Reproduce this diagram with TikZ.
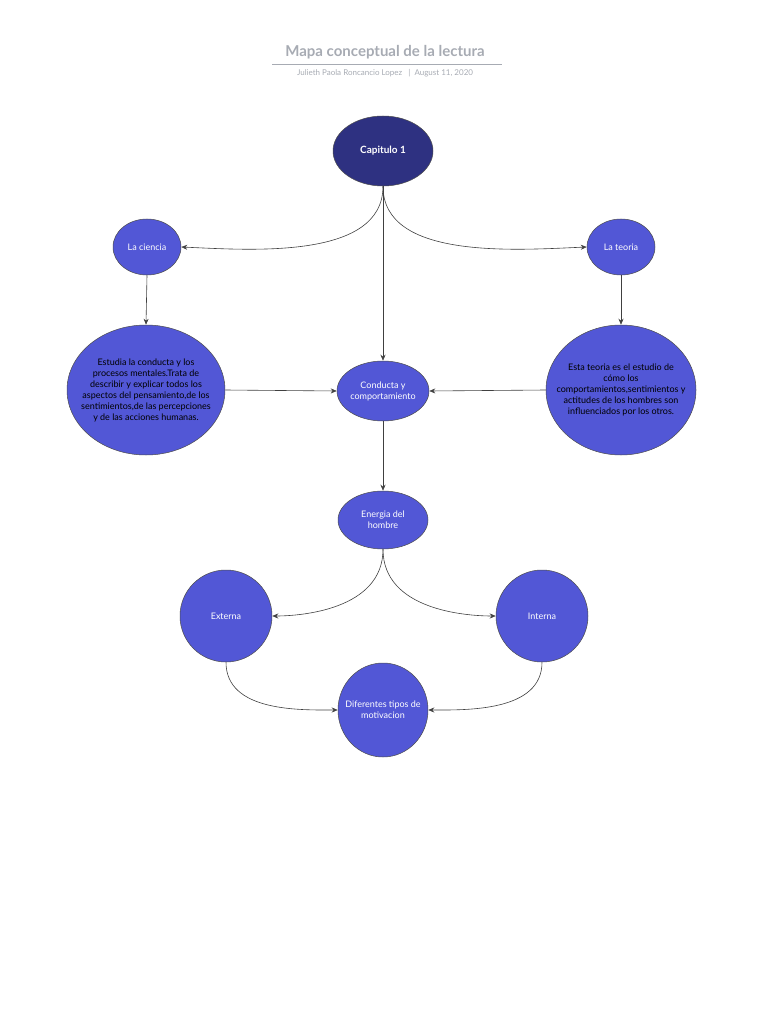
\documentclass[tikz,border=0pt]{standalone}
\usepackage{fontspec}
\setmainfont{Lato}
\usetikzlibrary{arrows.meta,shapes.geometric}
\definecolor{nodeblue}{HTML}{5257D6}
\definecolor{darkblue}{HTML}{2E3181}
\definecolor{titlegray}{HTML}{A7ABB3}
\tikzset{
  bub/.style={ellipse, draw=black!70, line width=0.5pt, fill=nodeblue, inner sep=-6pt, align=center, text=white, font=\fontsize{9}{11}\selectfont},
  bigbub/.style={bub, text=black, inner sep=-16pt},
  conn/.style={draw=black!75, line width=0.6pt, -{Stealth[length=6pt,width=5pt]}},
}
\begin{document}
\begin{tikzpicture}[x=1pt,y=-1pt]
\useasboundingbox (0,0) rectangle (768,1024);
\node[font=\bfseries\fontsize{15}{17}\selectfont, text=titlegray] (title) at (385,52) {Mapa conceptual de la lectura};
\draw[titlegray, line width=0.6pt] (272,64) -- (502,64);
\node[font=\fontsize{8}{10}\selectfont, text=titlegray] (sub) at (385,73) {Julieth Paola Roncancio Lopez \ \ |\ \ August 11, 2020};

\node[bub, fill=darkblue, minimum width=100pt, minimum height=70pt, font=\bfseries\fontsize{10}{12}\selectfont] (cap) at (383,151) {Capitulo 1};
\node[bub, minimum width=68pt, minimum height=56pt] (cie) at (147,247) {La ciencia};
\node[bub, minimum width=68pt, minimum height=56pt] (teo) at (621,247) {La teoria};
\node[bigbub, minimum width=158pt, minimum height=130pt] (lb) at (146,390) {Estudia la conducta y los\\procesos mentales.Trata de\\describir y explicar todos los\\aspectos del pensamiento,de los\\sentimientos,de las percepciones\\y de las acciones humanas.};
\node[bigbub, minimum width=150pt, minimum height=130pt] (rb) at (621,390) {Esta teoria es el estudio de\\cómo los\\comportamientos,sentimientos y\\actitudes de los hombres son\\influenciados por los otros.};
\node[bub, minimum width=92pt, minimum height=60pt] (con) at (383,391) {Conducta y\\comportamiento};
\node[bub, minimum width=90pt, minimum height=58pt] (ene) at (383,520) {Energia del\\hombre};
\node[bub, minimum width=92pt, minimum height=92pt] (ext) at (226,616) {Externa};
\node[bub, minimum width=92pt, minimum height=92pt] (int) at (542,616) {Interna};
\node[bub, minimum width=90pt, minimum height=94pt] (dif) at (383,710) {Diferentes tipos de\\motivacion};

\draw[conn] (cap.south) .. controls (383,260) and (250,250) .. (cie.east);
\draw[conn] (cap.south) .. controls (383,260) and (516,250) .. (teo.west);
\draw[conn] (cap.south) -- (con.north);
\draw[conn] (cie.south) -- (lb.north);
\draw[conn] (teo.south) -- (rb.north);
\draw[conn] (lb.east) -- (con.west);
\draw[conn] (rb.west) -- (con.east);
\draw[conn] (con.south) -- (ene.north);
\draw[conn] (ene.south) .. controls (383,610) and (300,616) .. (ext.east);
\draw[conn] (ene.south) .. controls (383,610) and (466,616) .. (int.west);
\draw[conn] (ext.south) .. controls (226,712) and (300,710) .. (dif.west);
\draw[conn] (int.south) .. controls (542,712) and (466,710) .. (dif.east);
\end{tikzpicture}
\end{document}
